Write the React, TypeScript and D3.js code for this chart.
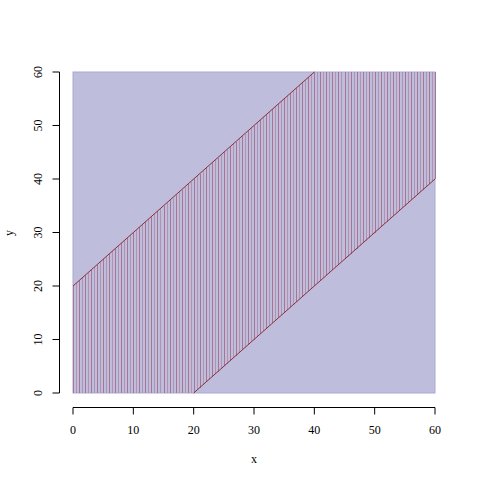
import React from "react";
import * as d3 from "d3";

const xTicks = [0, 10, 20, 30, 40, 50, 60];
const yTicks = [0, 10, 20, 30, 40, 50, 60];
const bandOffset = 20;
const domainMin = 0;
const domainMax = 60;
const hatchStep = 0.5;

export default function App() {
  const W = 480, H = 480;
  const x = d3.scaleLinear().domain([domainMin, domainMax]).range([73, 435]);
  const y = d3.scaleLinear().domain([domainMin, domainMax]).range([393, 72]);
  const hatchX = d3.range(domainMin, domainMax + hatchStep / 2, hatchStep);
  const upper = (v: number) => Math.min(domainMax, v + bandOffset);
  const lower = (v: number) => Math.max(domainMin, v - bandOffset);
  const line = d3.line<[number, number]>().x(d => x(d[0])).y(d => y(d[1]));
  const upperPts: [number, number][] = [[0, 20], [40, 60]];
  const lowerPts: [number, number][] = [[20, 0], [60, 40]];
  const font = "'Liberation Serif', 'DejaVu Serif', serif";
  return (
    <svg width={W} height={H} style={{ position: "absolute", left: 0, top: 0, background: "#fff" }}>
      <rect x={x(0)} y={y(60)} width={x(60) - x(0)} height={y(0) - y(60)} fill="#BEBDDC" stroke="#A9A8CF" strokeWidth={1} />
      {hatchX.map((v, i) => (
        <line key={i} x1={Math.round(x(v)) + 0.5} x2={Math.round(x(v)) + 0.5} y1={y(lower(v))} y2={y(upper(v))}
          stroke={i % 2 === 0 ? "#AA7592" : "#B092B3"} strokeWidth={1} shapeRendering="crispEdges" />
      ))}
      <path d={line(upperPts) || ""} stroke="#8B2E3E" strokeWidth={1} fill="none" />
      <path d={line(lowerPts) || ""} stroke="#8B2E3E" strokeWidth={1} fill="none" />
      {/* x axis */}
      <line x1={x(0)} x2={x(60)} y1={407.5} y2={407.5} stroke="#000" />
      {xTicks.map(t => (
        <g key={t}>
          <line x1={x(t)} x2={x(t)} y1={407.5} y2={414.5} stroke="#000" />
          <text x={x(t)} y={434} fontSize={12} fontFamily={font} textAnchor="middle">{t}</text>
        </g>
      ))}
      <text x={254} y={463} fontSize={12} fontFamily={font} textAnchor="middle">x</text>
      {/* y axis */}
      <line x1={59.5} x2={59.5} y1={y(0)} y2={y(60)} stroke="#000" />
      {yTicks.map(t => (
        <g key={t}>
          <line x1={52.5} x2={59.5} y1={y(t)} y2={y(t)} stroke="#000" />
          <text transform={`translate(42, ${y(t)}) rotate(-90)`} fontSize={12} fontFamily={font} textAnchor="middle">{t}</text>
        </g>
      ))}
      <text transform={`translate(13, 233) rotate(-90)`} fontSize={12} fontFamily={font} textAnchor="middle">y</text>
    </svg>
  );
}
